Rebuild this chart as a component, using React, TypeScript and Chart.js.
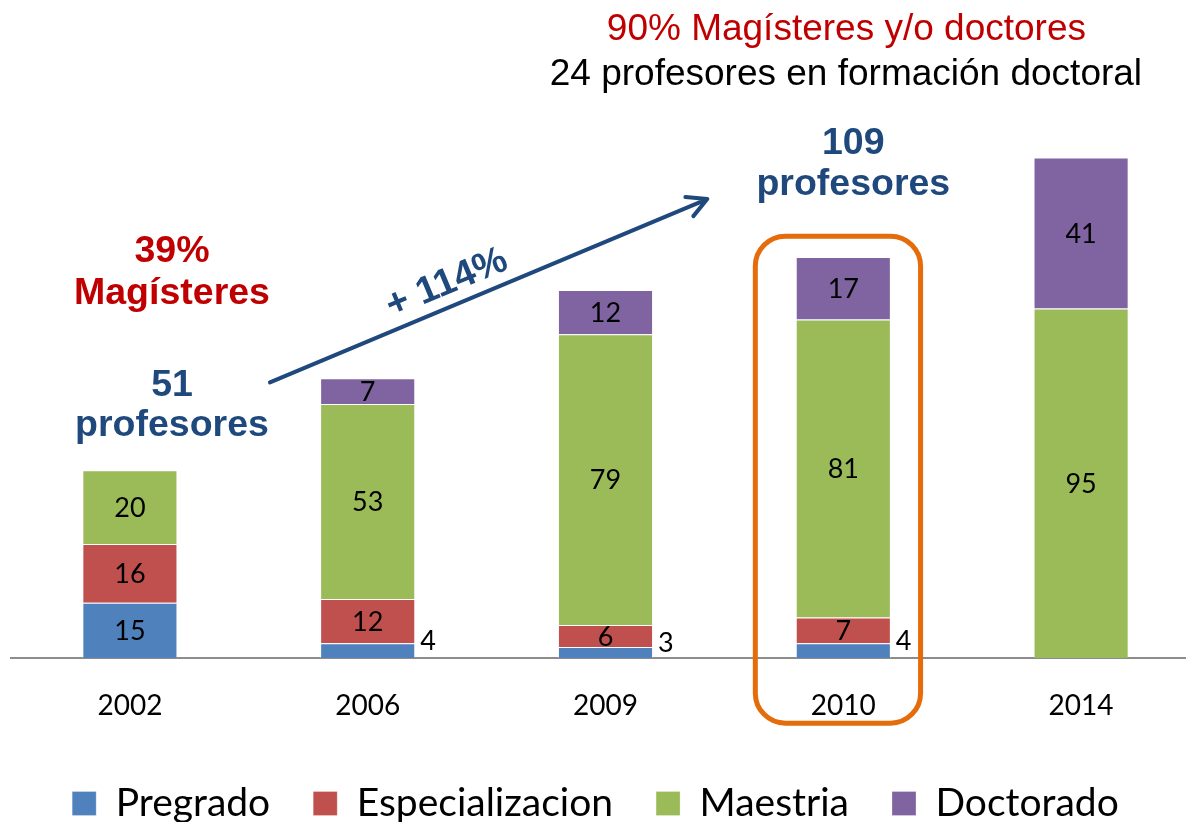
import React, { useEffect, useRef } from 'react';
import { Chart, registerables } from 'chart.js';

Chart.register(...registerables);

// ---------- data ----------
const CATEGORIES = ['2002', '2006', '2009', '2010', '2014'];
const PREGRADO = [15, 4, 3, 4, null];
const ESPECIALIZACION = [16, 12, 6, 7, null];
const MAESTRIA = [20, 53, 79, 81, 95];
const DOCTORADO = [null, 7, 12, 17, 41];
const SERIES_NAMES = ['Pregrado', 'Especializacion', 'Maestria', 'Doctorado'];
const SERIES_COLORS = ['#4F81BD', '#C0504D', '#9BBB59', '#8064A2'];
const Y_MAX = 150;
const OUTSIDE_LABEL_MAX = 4;

// annotation texts, placed in (category index, value) coordinates
const RED = '#C00000';
const BLUE = '#1F497D';
const NOTE_TEXTS = [
  { text: '90% Magísteres y/o doctores', x: 3.013, y: 168.0, color: RED, bold: false, size: 37 },
  { text: '24 profesores en formación doctoral', x: 3.011, y: 155.7, color: '#000000', bold: false, size: 37 },
  { text: '109', x: 3.042, y: 136.9, color: BLUE, bold: true, size: 37.5 },
  { text: 'profesores', x: 3.042, y: 125.8, color: BLUE, bold: true, size: 37.5 },
  { text: '39%', x: 0.177, y: 107.5, color: RED, bold: true, size: 37.5 },
  { text: 'Magísteres', x: 0.177, y: 96.1, color: RED, bold: true, size: 37.5 },
  { text: '51', x: 0.177, y: 71.3, color: BLUE, bold: true, size: 37.5 },
  { text: 'profesores', x: 0.177, y: 60.2, color: BLUE, bold: true, size: 37.5 },
];
const ARROW_FROM = { x: 0.589, y: 74.9 };
const ARROW_TO = { x: 2.428, y: 124.7 };
const ARROW_LABEL = { text: '+ 114%', x: 1.333, y: 101.8 };
const HIGHLIGHT_BOX = { x0: 2.63, x1: 3.325, y0: 114.6, y1: -17.7 };

const ANNOT_FONT = '"Liberation Sans", Arial, sans-serif';
const CHART_FONT = 'Lato, "Open Sans", sans-serif';

const dataLabelPlugin = {
  id: 'dataLabels',
  afterDatasetsDraw(chart: any) {
    const { ctx } = chart;
    ctx.save();
    ctx.font = `27px ${CHART_FONT}`;
    ctx.fillStyle = '#000000';
    ctx.textBaseline = 'middle';
    chart.data.datasets.forEach((ds: any, di: number) => {
      const meta = chart.getDatasetMeta(di);
      meta.data.forEach((bar: any, i: number) => {
        const v = ds.data[i];
        if (v == null) return;
        const { x, y, base, width } = bar.getProps(['x', 'y', 'base', 'width'], true);
        const cy = (y + base) / 2;
        if (v <= OUTSIDE_LABEL_MAX) {
          ctx.textAlign = 'left';
          ctx.fillText(String(v), x + width / 2 + 5, cy - 9);
        } else {
          ctx.textAlign = 'center';
          ctx.fillText(String(v), x, cy + 1);
        }
      });
    });
    ctx.restore();
  },
};

const notesPlugin = {
  id: 'notes',
  afterDraw(chart: any) {
    const { ctx } = chart;
    const xs = chart.scales.x;
    const ys = chart.scales.y;
    const X = (v: number) => xs.getPixelForValue(v);
    const Y = (v: number) => ys.getPixelForValue(v);
    ctx.save();

    // texts
    ctx.textAlign = 'center';
    ctx.textBaseline = 'alphabetic';
    NOTE_TEXTS.forEach((n) => {
      ctx.font = `${n.bold ? 'bold ' : ''}${n.size}px ${ANNOT_FONT}`;
      ctx.fillStyle = n.color;
      ctx.fillText(n.text, X(n.x), Y(n.y));
    });

    // arrow
    const x0 = X(ARROW_FROM.x), y0 = Y(ARROW_FROM.y);
    const x1 = X(ARROW_TO.x), y1 = Y(ARROW_TO.y);
    const ang = Math.atan2(y1 - y0, x1 - x0);
    ctx.strokeStyle = BLUE;
    ctx.lineWidth = 4;
    ctx.lineCap = 'round';
    ctx.lineJoin = 'round';
    ctx.beginPath();
    ctx.moveTo(x0, y0);
    ctx.lineTo(x1, y1);
    const head = 22;
    const spread = (28 * Math.PI) / 180;
    ctx.moveTo(x1 - head * Math.cos(ang - spread), y1 - head * Math.sin(ang - spread));
    ctx.lineTo(x1, y1);
    ctx.lineTo(x1 - head * Math.cos(ang + spread), y1 - head * Math.sin(ang + spread));
    ctx.stroke();

    // arrow label
    ctx.save();
    ctx.translate(X(ARROW_LABEL.x), Y(ARROW_LABEL.y));
    ctx.rotate(ang);
    ctx.font = `bold 38px ${ANNOT_FONT}`;
    ctx.fillStyle = BLUE;
    ctx.textAlign = 'center';
    ctx.textBaseline = 'middle';
    ctx.fillText(ARROW_LABEL.text, 0, 0);
    ctx.restore();

    // highlight box
    const bx0 = X(HIGHLIGHT_BOX.x0), bx1 = X(HIGHLIGHT_BOX.x1);
    const by0 = Y(HIGHLIGHT_BOX.y0), by1 = Y(HIGHLIGHT_BOX.y1);
    ctx.strokeStyle = '#E46C0A';
    ctx.lineWidth = 5;
    ctx.beginPath();
    (ctx as any).roundRect(bx0, by0, bx1 - bx0, by1 - by0, 30);
    ctx.stroke();

    ctx.restore();
  },
};

export default function App() {
  const canvasRef = useRef<HTMLCanvasElement | null>(null);

  useEffect(() => {
    let chart: any = null;
    let cancelled = false;
    const make = () => {
      if (cancelled || !canvasRef.current) return;
      const series = [PREGRADO, ESPECIALIZACION, MAESTRIA, DOCTORADO];
      chart = new Chart(canvasRef.current, {
        type: 'bar',
        data: {
          labels: CATEGORIES,
          datasets: series.map((d, i) => ({
            label: SERIES_NAMES[i],
            data: d,
            backgroundColor: SERIES_COLORS[i],
            borderColor: 'rgba(255,255,255,0.25)',
            borderWidth: 1,
            barPercentage: 0.4,
            categoryPercentage: 1.0,
          })),
        },
        options: {
          animation: false,
          responsive: false,
          devicePixelRatio: 1,
          layout: { padding: { top: 106, left: 0, right: 0, bottom: 0 } },
          plugins: {
            tooltip: { enabled: false },
            legend: {
              position: 'bottom',
              labels: {
                boxWidth: 24,
                boxHeight: 24,
                padding: 43,
                color: '#000000',
                font: { family: CHART_FONT, size: 39 },
              },
            },
          },
          scales: {
            x: {
              stacked: true,
              grid: { display: false },
              border: { display: true, color: '#8C8C8C', width: 2 },
              ticks: { color: '#000000', padding: 23, font: { family: CHART_FONT, size: 28 } },
              afterFit: (scale: any) => {
                scale.height = 83;
              },
            },
            y: {
              stacked: true,
              min: 0,
              max: Y_MAX,
              display: true,
              grid: { display: false },
              border: { display: false },
              ticks: { display: false },
              afterFit: (scale: any) => {
                scale.width = 20;
              },
            },
          },
        },
        plugins: [dataLabelPlugin, notesPlugin],
      } as any);
    };
    const fonts: any = (document as any).fonts;
    if (fonts && fonts.load) {
      Promise.all([
        fonts.load('39px Lato'),
        fonts.load('bold 36px "Liberation Sans"'),
        fonts.load('37px "Liberation Sans"'),
      ])
        .catch(() => null)
        .then(make);
    } else {
      make();
    }
    return () => {
      cancelled = true;
      if (chart) chart.destroy();
    };
  }, []);

  return (
    <div
      style={{
        position: 'fixed',
        left: 0,
        top: 0,
        width: 1186,
        height: 822,
        overflow: 'hidden',
        background: '#ffffff',
      }}
    >
      <canvas
        ref={canvasRef}
        width={1209}
        height={833}
        style={{ position: 'absolute', left: -9, top: 0, width: 1209, height: 833 }}
      />
    </div>
  );
}
